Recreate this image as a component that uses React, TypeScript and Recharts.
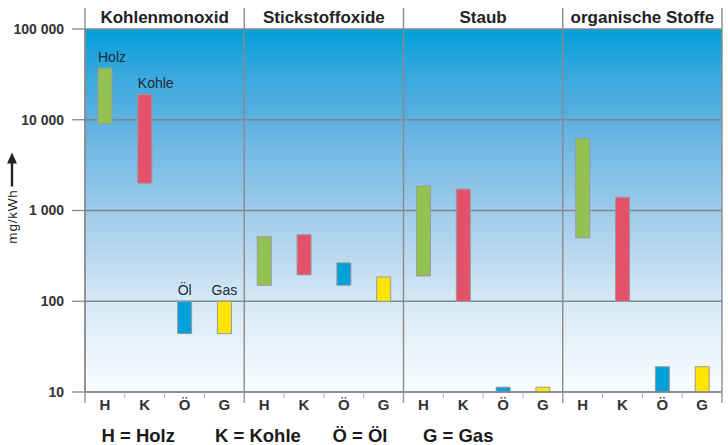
import React from 'react';
import {
  ComposedChart,
  Bar,
  Cell,
  XAxis,
  YAxis,
  CartesianGrid,
  ReferenceLine,
  LabelList,
} from 'recharts';

// ---- data ----
const groups = ['Kohlenmonoxid', 'Stickstoffoxide', 'Staub', 'organische Stoffe'];
const fuels = ['H', 'K', 'Ö', 'G'];
const fuelNames = ['Holz', 'Kohle', 'Öl', 'Gas'];
const fuelColors = ['#93c152', '#e5516b', '#00a0da', '#ffe500'];
// per group: H, K, Ö, G  (mg/kWh)
const lowValues = [9000, 2000, 44, 44, 150, 195, 150, 100, 190, 100, 10, 10, 500, 100, 10, 10];
const highValues = [37000, 19000, 100, 100, 515, 540, 265, 185, 1860, 1720, 11.3, 11.3, 6200, 1400, 19, 19];
const yTicks = [10, 100, 1000, 10000, 100000];
const yTickLabels = ['10', '100', '1 000', '10 000', '100 000'];

const data = lowValues.map((low, i) => ({
  x: i + 0.5,
  fuel: fuels[i % fuels.length],
  group: groups[Math.floor(i / fuels.length)],
  range: [low, highValues[i]],
}));

const xTicks: number[] = [];
data.forEach((_, i) => {
  xTicks.push(i, i + 0.5);
});
xTicks.push(data.length);

const FONT = '"Liberation Sans", Arial, Helvetica, sans-serif';
const GRID = '#7f8891';

const XTick = (props: any) => {
  const { x, y, payload } = props;
  const v = payload.value as number;
  if (Number.isInteger(v)) {
    const major = v % fuels.length === 0;
    return (
      <line
        x1={x}
        x2={x}
        y1={y}
        y2={y + (major ? 11 : 6)}
        stroke={major ? '#9a9a9a' : '#b0b0b0'}
        strokeWidth={major ? 1.5 : 1}
      />
    );
  }
  const idx = Math.floor(v);
  return (
    <text x={x} y={y + 18} textAnchor="middle" fontSize={15} fontWeight="bold" fill="#333" fontFamily={FONT}>
      {fuels[idx % fuels.length]}
    </text>
  );
};

const SeparatorShape = (props: any) => {
  const { x1, x2, y1, y2 } = props;
  const top = Math.min(y1, y2) - 21;
  const bottom = Math.max(y1, y2);
  return <line x1={x1} x2={x2} y1={top} y2={bottom} stroke="#8a8a8a" strokeWidth={1.4} />;
};

const BarNameLabel = (props: any) => {
  const { x, y, width, index } = props;
  if (index == null || index >= fuels.length) return null;
  const start = index < 2;
  return (
    <text
      x={start ? x : x + width / 2}
      y={y - 6.5}
      textAnchor={start ? 'start' : 'middle'}
      fontSize={14}
      fill="#1d2b3a"
      fontFamily={FONT}
    >
      {fuelNames[index]}
    </text>
  );
};

const YLabel = (props: any) => {
  const vb = props.viewBox || { x: 0, y: 29, width: 85, height: 363 };
  const cx = vb.x + 12;
  const cy = vb.y + vb.height / 2;
  const ty = cy + 6;
  const arrowBottom = cy - 24;
  const arrowTop = cy - 58;
  return (
    <g>
      <text
        x={cx}
        y={ty}
        transform={`rotate(-90, ${cx}, ${ty})`}
        textAnchor="middle"
        dominantBaseline="central"
        fontSize={13.5}
        letterSpacing={0.8}
        fill="#222"
        fontFamily={FONT}
      >
        mg/kWh
      </text>
      <line x1={cx} x2={cx} y1={arrowBottom} y2={arrowTop + 9} stroke="#222" strokeWidth={2.4} />
      <polygon points={`${cx - 5},${arrowTop + 11} ${cx + 5},${arrowTop + 11} ${cx},${arrowTop}`} fill="#222" />
    </g>
  );
};

const FooterLabel = (props: any) => {
  const vb = props.viewBox || { x: 85, y: 392, width: 637, height: 53 };
  const offsets = [16.5, 130, 247.5, 338];
  return (
    <g>
      {fuels.map((f, i) => (
        <text
          key={f}
          x={vb.x + offsets[i]}
          y={vb.y + 49.5}
          fontSize={18.5}
          fontWeight="bold"
          fill="#1a1a1a"
          fontFamily={FONT}
        >
          {`${f} = ${fuelNames[i]}`}
        </text>
      ))}
    </g>
  );
};

export default function App() {
  const separators = groups.map((_, g) => g * fuels.length).concat(data.length);
  return (
    <div style={{ position: 'absolute', left: 0, top: 0, width: 728, height: 445, background: '#fff' }}>
      <ComposedChart
        width={728}
        height={445}
        data={data}
        margin={{ top: 29, right: 6, bottom: 0, left: 0 }}
        style={{ fontFamily: FONT }}
      >
        <defs>
          <linearGradient id="bgGrad" x1="0" y1="0" x2="0" y2="1">
            <stop offset="0%" stopColor="#009fd9" />
            <stop offset="13%" stopColor="#3aa9dd" />
            <stop offset="25%" stopColor="#5db1e1" />
            <stop offset="50%" stopColor="#9ecbea" />
            <stop offset="75%" stopColor="#d6e8f5" />
            <stop offset="100%" stopColor="#fbfdff" />
          </linearGradient>
        </defs>
        <CartesianGrid vertical={false} stroke={GRID} strokeWidth={1.3} fill="url(#bgGrad)" fillOpacity={1} />
        <XAxis
          type="number"
          dataKey="x"
          domain={[0, data.length]}
          ticks={xTicks}
          interval={0}
          allowDataOverflow
          height={53}
          tickLine={false}
          tickSize={0}
          tickMargin={0}
          axisLine={{ stroke: GRID, strokeWidth: 1.3 }}
          tick={<XTick />}
          label={<FooterLabel />}
        />
        <YAxis
          type="number"
          scale="log"
          domain={[10, 100000]}
          ticks={yTicks}
          interval={0}
          allowDataOverflow
          width={85}
          tickSize={13}
          tickMargin={8}
          tickLine={{ stroke: GRID, strokeWidth: 1.3 }}
          axisLine={{ stroke: '#8a8a8a', strokeWidth: 1.4 }}
          tickFormatter={(v: number) => yTickLabels[yTicks.indexOf(v)] ?? String(v)}
          tick={{ fill: '#333', fontSize: 14, fontWeight: 'bold', fontFamily: FONT }}
          label={<YLabel />}
        />
        {separators.map((s) => (
          <ReferenceLine key={`sep-${s}`} x={s} shape={<SeparatorShape />} />
        ))}
        {groups.map((g, i) => (
          <ReferenceLine
            key={`hdr-${g}`}
            x={i * fuels.length + fuels.length / 2}
            stroke="none"
            label={(p: any) => (
              <text
                x={p.viewBox.x}
                y={p.viewBox.y - 6}
                textAnchor="middle"
                fontSize={17}
                fontWeight="bold"
                fill="#222"
                fontFamily={FONT}
              >
                {g}
              </text>
            )}
          />
        ))}
        <Bar dataKey="range" barSize={14} isAnimationActive={false}>
          {data.map((d, i) => (
            <Cell key={i} fill={fuelColors[i % fuels.length]} stroke="#9a9a9a" strokeWidth={1} />
          ))}
          <LabelList dataKey="range" content={<BarNameLabel />} />
        </Bar>
      </ComposedChart>
    </div>
  );
}
